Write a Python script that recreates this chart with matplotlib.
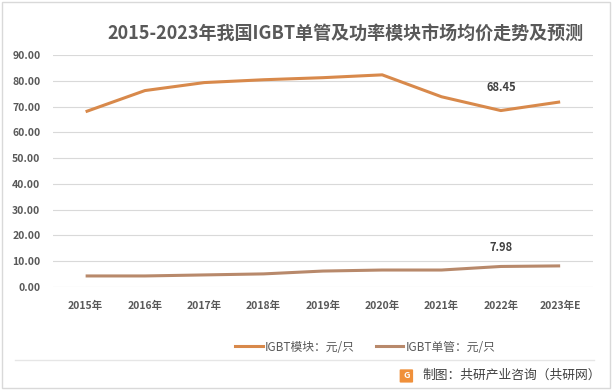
import matplotlib
matplotlib.use("Agg")
import matplotlib.pyplot as plt
from matplotlib.patches import Rectangle, FancyBboxPatch
from matplotlib.lines import Line2D

plt.rcParams['font.family'] = ['Noto Sans CJK SC', 'DejaVu Sans']

years = ["2015年", "2016年", "2017年", "2018年", "2019年", "2020年", "2021年", "2022年", "2023年E"]
module_price = [68.0, 76.2, 79.3, 80.4, 81.2, 82.3, 73.8, 68.45, 71.8]
single_price = [4.3, 4.3, 4.7, 5.1, 6.2, 6.6, 6.6, 7.98, 8.2]
labels = ["IGBT模块：元/只", "IGBT单管：元/只"]
title = "2015-2023年我国IGBT单管及功率模块市场均价走势及预测"
source = "制图：共研产业咨询（共研网）"

c_mod = "#D8894B"
c_single = "#B8896B"
gray = "#595959"

fig = plt.figure(figsize=(6.12, 3.9), dpi=100)
fig.patch.set_facecolor("white")
fig.add_artist(Rectangle((0.004, 0.004), 0.992, 0.992, transform=fig.transFigure,
                         fill=False, edgecolor="#D9D9D9", linewidth=1))

ax = fig.add_axes([0.0866, 0.264, 0.882, 0.595])
x = list(range(len(years)))
ax.plot(x, module_price, color=c_mod, linewidth=2.2, solid_capstyle="butt")
ax.plot(x, single_price, color=c_single, linewidth=2.2, solid_capstyle="butt")
ax.set_xlim(-0.55, len(years) - 0.45)
ax.set_ylim(0, 90)
ax.set_yticks(range(0, 91, 10))
ax.set_yticklabels([f"{v:.2f}" for v in range(0, 91, 10)], fontsize=7.5, color=gray, fontweight="bold")
ax.set_xticks(x)
ax.set_xticklabels(years, fontsize=7.5, color=gray, fontweight="bold")
ax.tick_params(axis="both", length=0)
ax.tick_params(axis="y", pad=9)
ax.tick_params(axis="x", pad=10)
ax.grid(axis="y", color="#D9D9D9", linewidth=0.8)
ax.set_axisbelow(True)
for s in ax.spines.values():
    s.set_visible(False)

ax.annotate(f"{module_price[7]:.2f}", (7, module_price[7]), xytext=(0, 12), textcoords="offset points",
            ha="center", va="bottom", fontsize=8, color="#404040", fontweight="bold")
ax.annotate(f"{single_price[7]:.2f}", (7, single_price[7]), xytext=(0, 9), textcoords="offset points",
            ha="center", va="bottom", fontsize=8, color="#404040", fontweight="bold")

fig.text(0.564, 0.915, title, ha="center", va="center", fontsize=13, fontweight="bold", color=gray)

handles = [Line2D([0], [0], color=c_mod, linewidth=2.2), Line2D([0], [0], color=c_single, linewidth=2.2)]
fig.legend(handles, labels, loc="center", bbox_to_anchor=(0.597, 0.11), ncol=2, frameon=False,
           fontsize=8.5, handlelength=2.3, handletextpad=0.2, columnspacing=1.8, labelcolor=gray)

fig.add_artist(Line2D([0.025, 0.97], [0.077, 0.077], transform=fig.transFigure, color="#E6E6E6", linewidth=1))

fig.add_artist(FancyBboxPatch((0.655, 0.021), 0.018, 0.03, boxstyle="round,pad=0.002",
                              transform=fig.transFigure, facecolor="#F0903A", edgecolor="none"))
fig.text(0.664, 0.036, "G", ha="center", va="center", fontsize=6.5, color="white", fontweight="bold")
fig.text(0.69, 0.037, source, ha="left", va="center", fontsize=9.2, color="#404040")

fig.savefig("out.png", dpi=100)
